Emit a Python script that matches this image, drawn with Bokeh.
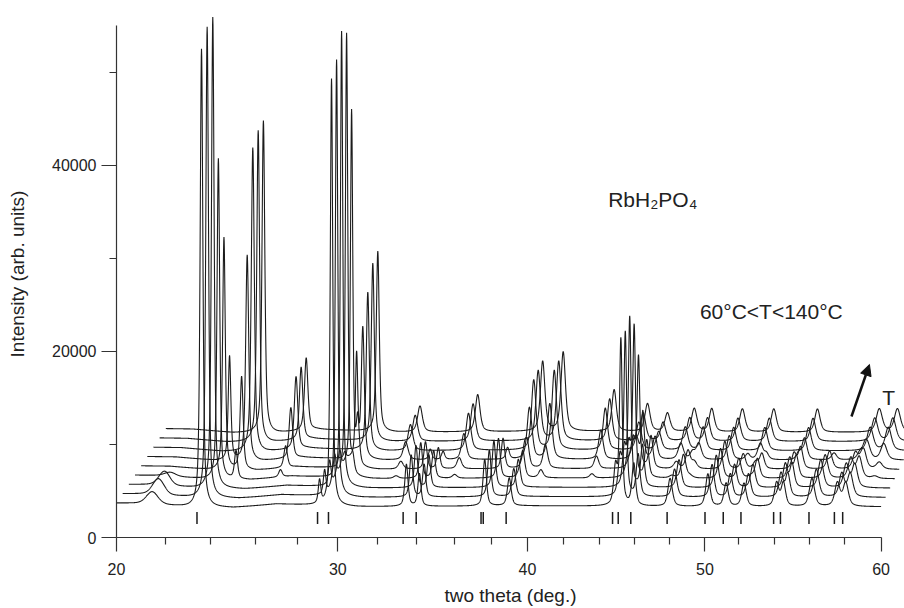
import numpy as np
from bokeh.plotting import figure
from bokeh.models import FixedTicker, Range1d, Label, Arrow, NormalHead
from bokeh.embed import file_html
from bokeh.resources import INLINE

# ---------------- data ----------------
TEMPERATURES = [60, 70, 80, 90, 100, 110, 120, 130, 140]      # nine scans, 60..140 C
SCAN_START, SCAN_END = 20.0, 60.0                               # two theta range of every scan
SHIFT_2THETA = 0.25                                             # waterfall shift per scan (deg)
SHIFT_COUNTS = 1000                                             # waterfall shift per scan (counts)

BACKGROUND_2THETA = [20.0, 21.2, 23.0, 25.0, 27.0, 31.0, 40.0, 50.0, 60.0]
BACKGROUND_COUNTS = [3700, 3650, 3250, 3200, 3600, 3300, 3400, 3300, 3300]

# reference reflections of the tetragonal phase (tick marks under the scans)
BRAGG_2THETA = [23.38, 29.00, 29.54, 33.32, 34.00, 37.46, 37.58, 38.83, 44.76, 45.08,
                45.79, 47.88, 50.00, 51.08, 52.12, 53.94, 54.33, 55.97, 57.41, 57.88]

# small feature near 21.4 deg, only in the first scans
BUMP_2THETA, BUMP_FWHM = 21.45, 0.55
BUMP_HEIGHT = [1300, 1700, 1500, 400, 0, 0, 0, 0, 0]

# tetragonal (low temperature) phase
TET_2THETA = [29.10, 33.49, 34.17, 37.66, 39.00, 44.93, 45.96, 48.05,
              50.17, 51.25, 52.29, 54.11, 54.50, 56.14, 57.58, 58.05]
TET_HEIGHT = [2500, 4500, 3500, 5000, 3000, 4000, 4500, 3000,
              3500, 2500, 2500, 2500, 2500, 3000, 2500, 2500]
TET_FWHM = [0.15, 0.20, 0.20, 0.22, 0.25, 0.25, 0.25, 0.30,
            0.30, 0.30, 0.30, 0.30, 0.30, 0.35, 0.35, 0.35]
TET_FRACTION = [1.0, 1.0, 1.0, 0.85, 0.65, 0.25, 0.0, 0.0, 0.0]
# strongest tetragonal reflections, height per scan
TET_STRONG_2THETA = [23.58, 29.69, 45.23]
TET_STRONG_FWHM = [0.14, 0.14, 0.18]
TET_2358 = [49300, 50650, 50700, 34500, 25000, 11200, 0, 0, 0]
TET_2969 = [45900, 46960, 49000, 47750, 38400, 11000, 0, 0, 0]
TET_4523 = [17700, 17400, 18000, 16200, 11900, 5000, 0, 0, 0]

# monoclinic (high temperature) phase
MONO_2THETA = [26.44, 32.20, 35.28, 38.85, 40.00, 42.85, 44.75, 45.90, 47.40,
               48.40, 50.20, 51.95, 54.45, 57.90, 58.90]
MONO_HEIGHT = [7800, 2800, 4000, 7500, 8500, 4500, 3000, 2000, 2500,
               2500, 2500, 2500, 2500, 2500, 2500]
MONO_FWHM = [0.20, 0.30, 0.30, 0.30, 0.30, 0.30, 0.35, 0.35, 0.35,
             0.35, 0.35, 0.35, 0.35, 0.40, 0.40]
MONO_FRACTION = [0.0, 0.0, 0.0, 0.1, 0.3, 0.7, 1.0, 1.0, 1.0]
MONO_STRONG_2THETA = [24.37, 30.00]
MONO_STRONG_FWHM = [0.16, 0.18]
MONO_2437 = [0, 0, 0, 3000, 10000, 22100, 32700, 33540, 33600]
MONO_3000 = [0, 0, 0, 1500, 5000, 14000, 17000, 19100, 19400]

# axis: labelled ticks and the reference's (non-uniform) tick spacing, as fraction of axis length
X_TICKS = [20, 22, 24, 26, 28, 30, 32, 34, 36, 38, 40, 42, 44, 46, 48, 50, 52, 54, 56, 58, 60]
X_TICK_FRACTION = [0.0, 0.06448, 0.12359, 0.18206, 0.23646, 0.28943, 0.34175, 0.39197,
                   0.44154, 0.48980, 0.53754, 0.58423, 0.63118, 0.67748, 0.72286, 0.76968,
                   0.81389, 0.86084, 0.90636, 0.95252, 1.0]
X_MAJOR = [20, 30, 40, 50, 60]
Y_MAJOR = [0, 20000, 40000]
Y_MINOR = [10000, 30000, 50000]


def axis_coord(tt):
    """two theta -> position along the reference's axis (labelled 20..60)."""
    tt = np.asarray(tt, dtype=float)
    inside = 20.0 + 40.0 * np.interp(tt, X_TICKS, X_TICK_FRACTION)
    slope = 40.0 * (X_TICK_FRACTION[-1] - X_TICK_FRACTION[-2]) / (X_TICKS[-1] - X_TICKS[-2])
    return np.where(tt <= 60.0, inside, 60.0 + (tt - 60.0) * slope)


def pseudo_voigt(x, x0, h, w, eta=0.6):
    d = (x - x0) / w
    return h * (eta / (1.0 + 4.0 * d * d) + (1.0 - eta) * np.exp(-4.0 * np.log(2.0) * d * d))


tt = np.arange(SCAN_START, SCAN_END + 1e-9, 0.01)

p = figure(width=904, height=608, output_backend="svg", toolbar_location=None,
           x_range=Range1d(20, 61.224), y_range=Range1d(0, 56650),
           min_border_left=116, min_border_right=0, min_border_top=10, min_border_bottom=71)
p.outline_line_color = None
p.xgrid.visible = False
p.ygrid.visible = False
p.background_fill_color = "white"
p.border_fill_color = "white"

for k in range(len(TEMPERATURES)):
    y = np.interp(tt, BACKGROUND_2THETA, BACKGROUND_COUNTS).astype(float)
    y += pseudo_voigt(tt, BUMP_2THETA, BUMP_HEIGHT[k], BUMP_FWHM, eta=0.3)
    for x0, h, w in zip(TET_2THETA, TET_HEIGHT, TET_FWHM):
        y += pseudo_voigt(tt, x0, h * TET_FRACTION[k], w)
    for x0, w, heights in zip(TET_STRONG_2THETA, TET_STRONG_FWHM, [TET_2358, TET_2969, TET_4523]):
        y += pseudo_voigt(tt, x0, heights[k], w)
    for x0, h, w in zip(MONO_2THETA, MONO_HEIGHT, MONO_FWHM):
        y += pseudo_voigt(tt, x0, h * MONO_FRACTION[k], w)
    for x0, w, heights in zip(MONO_STRONG_2THETA, MONO_STRONG_FWHM, [MONO_2437, MONO_3000]):
        y += pseudo_voigt(tt, x0, heights[k], w)
    xs = axis_coord(tt + SHIFT_2THETA * k)
    ys = y + SHIFT_COUNTS * k
    p.line(xs, ys, line_color="#1c1c1c", line_width=1.1)

# Bragg tick marks
bx = axis_coord(BRAGG_2THETA)
p.segment(x0=bx, y0=[1450] * len(bx), x1=bx, y1=[2750] * len(bx),
          line_color="#1c1c1c", line_width=1.5)

# axes
major_x = [float(v) for v in axis_coord(X_MAJOR)]
minor_x = [float(v) for v, t in zip(axis_coord(X_TICKS), X_TICKS) if t not in X_MAJOR]
p.xaxis.ticker = FixedTicker(ticks=major_x, minor_ticks=minor_x)
p.xaxis.major_label_overrides = {v: str(t) for v, t in zip(major_x, X_MAJOR)}
p.yaxis.ticker = FixedTicker(ticks=Y_MAJOR, minor_ticks=Y_MINOR)
p.xaxis.bounds = (20, 60)
p.yaxis.bounds = (0, 55000)

for ax in (p.xaxis, p.yaxis):
    ax.axis_line_color = "#333333"
    ax.axis_line_width = 1.2
    ax.major_tick_line_color = "#333333"
    ax.minor_tick_line_color = "#333333"
    ax.major_tick_line_width = 1.2
    ax.minor_tick_line_width = 1.2
    ax.major_tick_in = 0
    ax.minor_tick_in = 0
    ax.major_tick_out = 15
    ax.minor_tick_out = 7
    ax.major_label_text_font = "Liberation Sans"
    ax.major_label_text_font_size = "16px"
    ax.major_label_text_color = "#222222"
    ax.axis_label_text_font = "Liberation Sans"
    ax.axis_label_text_font_size = "19px"
    ax.axis_label_text_font_style = "normal"
    ax.axis_label_text_color = "#222222"

p.xaxis.axis_label = "two theta (deg.)"
p.yaxis.axis_label = "Intensity (arb. units)"
p.xaxis.major_tick_out = 14
p.xaxis.major_label_standoff = 11
p.xaxis.axis_label_standoff = 7
p.yaxis.major_label_standoff = 5
p.yaxis.axis_label_standoff = 21

# annotations
p.add_layout(Label(x=45.72, y=36300, text="RbH₂PO₄", text_font="Liberation Sans",
                   text_font_size="21px", text_color="#222222", text_baseline="alphabetic"))
p.add_layout(Label(x=50.52, y=24330, text="60°C<T<140°C", text_font="Liberation Sans",
                   text_font_size="21px", text_color="#222222", text_baseline="alphabetic"))
p.add_layout(Label(x=60.06, y=15080, text="T", text_font="Liberation Sans",
                   text_font_size="21px", text_color="#222222", text_baseline="alphabetic"))
p.add_layout(Arrow(end=NormalHead(size=11, fill_color="#111111", line_color="#111111"),
                   x_start=58.45, y_start=13010, x_end=59.39, y_end=18600,
                   line_color="#111111", line_width=2.5))

open("out.html", "w").write(file_html(p, INLINE))
